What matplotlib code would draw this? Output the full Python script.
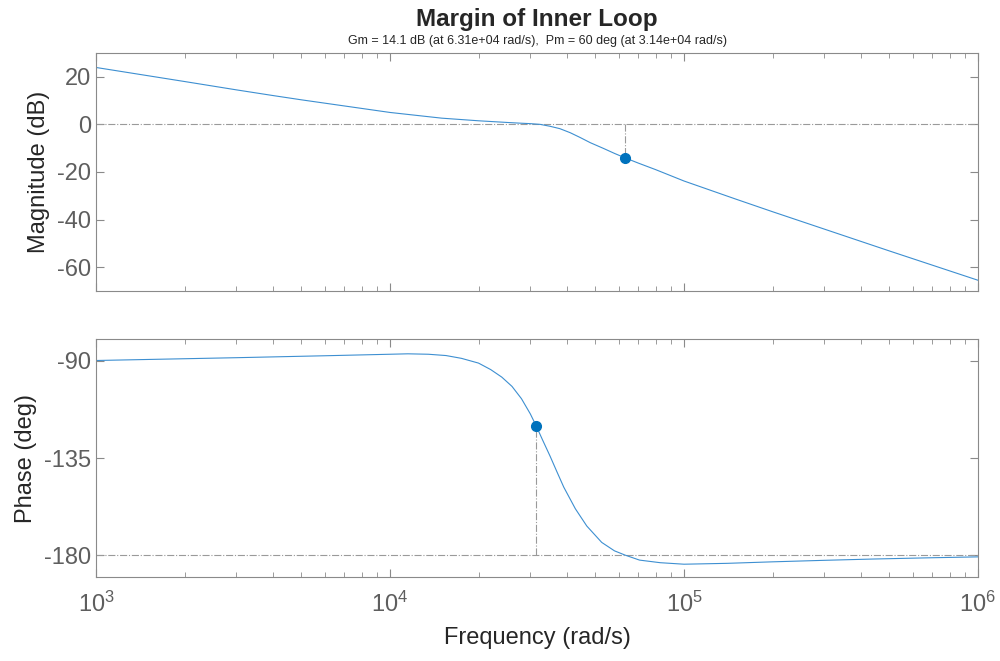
import numpy as np
import matplotlib
matplotlib.use("Agg")
import matplotlib.pyplot as plt
from matplotlib.ticker import LogLocator, NullFormatter, FixedLocator

plt.rcParams["font.family"] = ["Liberation Sans", "DejaVu Sans"]
plt.rcParams["mathtext.fontset"] = "custom"
plt.rcParams["mathtext.rm"] = "Liberation Sans"
plt.rcParams["axes.unicode_minus"] = False

# Magnitude curve (rad/s, dB)
magFreq = [1e3, 2e3, 3e3, 4e3, 5e3, 1e4, 1.5e4, 2e4, 2.5e4, 2.77e4, 3.0e4,
           3.24e4, 3.5e4, 3.78e4, 4.1e4, 4.43e4, 4.8e4, 5.32e4, 5.8e4, 6.31e4,
           7e4, 8e4, 1e5, 1.5e5, 2e5, 3e5, 5e5, 1e6]
magDb = [23.9, 18.0, 14.5, 12.1, 10.3, 5.0, 2.6, 1.5, 0.8, 0.5, 0.3,
         0.0, -0.8, -1.8, -3.5, -5.5, -7.7, -10.1, -12.2, -14.1,
         -16.3, -19.0, -23.8, -31.4, -36.7, -44.0, -53.2, -65.5]

# Phase curve (rad/s, deg)
phaseFreq = [1e3, 3e3, 6e3, 1e4, 1.15e4, 1.35e4, 1.55e4, 1.75e4, 2.0e4, 2.2e4,
             2.4e4, 2.6e4, 2.8e4, 3.0e4, 3.14e4, 3.3e4, 3.5e4, 3.7e4, 3.9e4,
             4.27e4, 4.67e4, 5.25e4, 5.8e4, 6.31e4, 7.06e4, 8.3e4, 1e5, 1.4e5,
             2e5, 3e5, 4.4e5, 7e5, 1e6]
phaseDeg = [-89.8, -88.5, -87.6, -86.9, -86.7, -86.9, -87.5, -88.8, -91.0, -94.0,
            -97.5, -101.8, -107.5, -114.5, -120.0, -126.5, -134.0, -141.5, -148.5,
            -158.5, -166.5, -174.1, -178.0, -180.0, -182.3, -183.5, -184.2, -183.8,
            -183.1, -182.4, -181.8, -181.2, -180.8]

# Margin values
gmDb = 14.1
gmFreq = 6.31e4
pmDeg = 60
pmFreq = 3.14e4

lineColor = "#3d8fd1"
dotColor = "#0072BD"
refColor = "#9a9a9a"
axisColor = "#8a8a8a"
tickColor = "#5e5e5e"
labelColor = "#262626"

fig = plt.figure(figsize=(10, 6.61), dpi=100)
axMag = fig.add_axes([0.096, 0.5598, 0.882, 0.3601])
axPh = fig.add_axes([0.096, 0.1275, 0.882, 0.3591])

for ax in (axMag, axPh):
    ax.set_xscale("log")
    ax.set_xlim(1e3, 1e6)
    ax.xaxis.set_major_locator(LogLocator(base=10, numticks=10))
    ax.xaxis.set_minor_locator(LogLocator(base=10, subs=np.arange(2, 10), numticks=30))
    ax.tick_params(which="both", direction="in", top=True, right=True,
                   colors=axisColor, labelcolor=tickColor)
    ax.tick_params(which="major", length=6, width=0.8, labelsize=17)
    ax.tick_params(which="minor", length=3.5, width=0.6)
    for s in ax.spines.values():
        s.set_color(axisColor)
        s.set_linewidth(0.8)

# Magnitude
axMag.axhline(0, color=refColor, lw=0.8, ls="-.")
axMag.plot([gmFreq, gmFreq], [0, -gmDb], color=refColor, lw=0.8, ls="-.")
axMag.plot(magFreq, magDb, color=lineColor, lw=0.8)
axMag.plot([gmFreq], [-gmDb], "o", color=dotColor, ms=7)
axMag.set_ylim(-70, 30)
axMag.yaxis.set_major_locator(FixedLocator([-60, -40, -20, 0, 20]))
axMag.xaxis.set_major_formatter(NullFormatter())
axMag.set_ylabel("Magnitude (dB)", fontsize=17, color=labelColor, labelpad=5)

# Phase
axPh.axhline(-180, color=refColor, lw=0.8, ls="-.")
axPh.plot([pmFreq, pmFreq], [-180, -180 + pmDeg], color=refColor, lw=0.8, ls="-.")
axPh.plot(phaseFreq, phaseDeg, color=lineColor, lw=0.8)
axPh.plot([pmFreq], [-180 + pmDeg], "o", color=dotColor, ms=7)
axPh.set_ylim(-190, -80)
axPh.yaxis.set_major_locator(FixedLocator([-180, -135, -90]))
axPh.set_ylabel("Phase (deg)", fontsize=17, color=labelColor, labelpad=5)
axPh.tick_params(axis="x", which="major", labelsize=17, pad=11)
axPh.set_xlabel("Frequency (rad/s)", fontsize=17, color=labelColor, labelpad=7)

fig.text(0.537, 0.971, "Margin of Inner Loop", ha="center", va="center",
         fontsize=17.5, fontweight="bold", color=labelColor)
fig.text(0.537, 0.938,
         "Gm = %.1f dB (at %.2e rad/s),  Pm = %d deg (at %.2e rad/s)" % (gmDb, gmFreq, pmDeg, pmFreq),
         ha="center", va="center", fontsize=9, color=labelColor)

fig.savefig("out.png", dpi=100)
